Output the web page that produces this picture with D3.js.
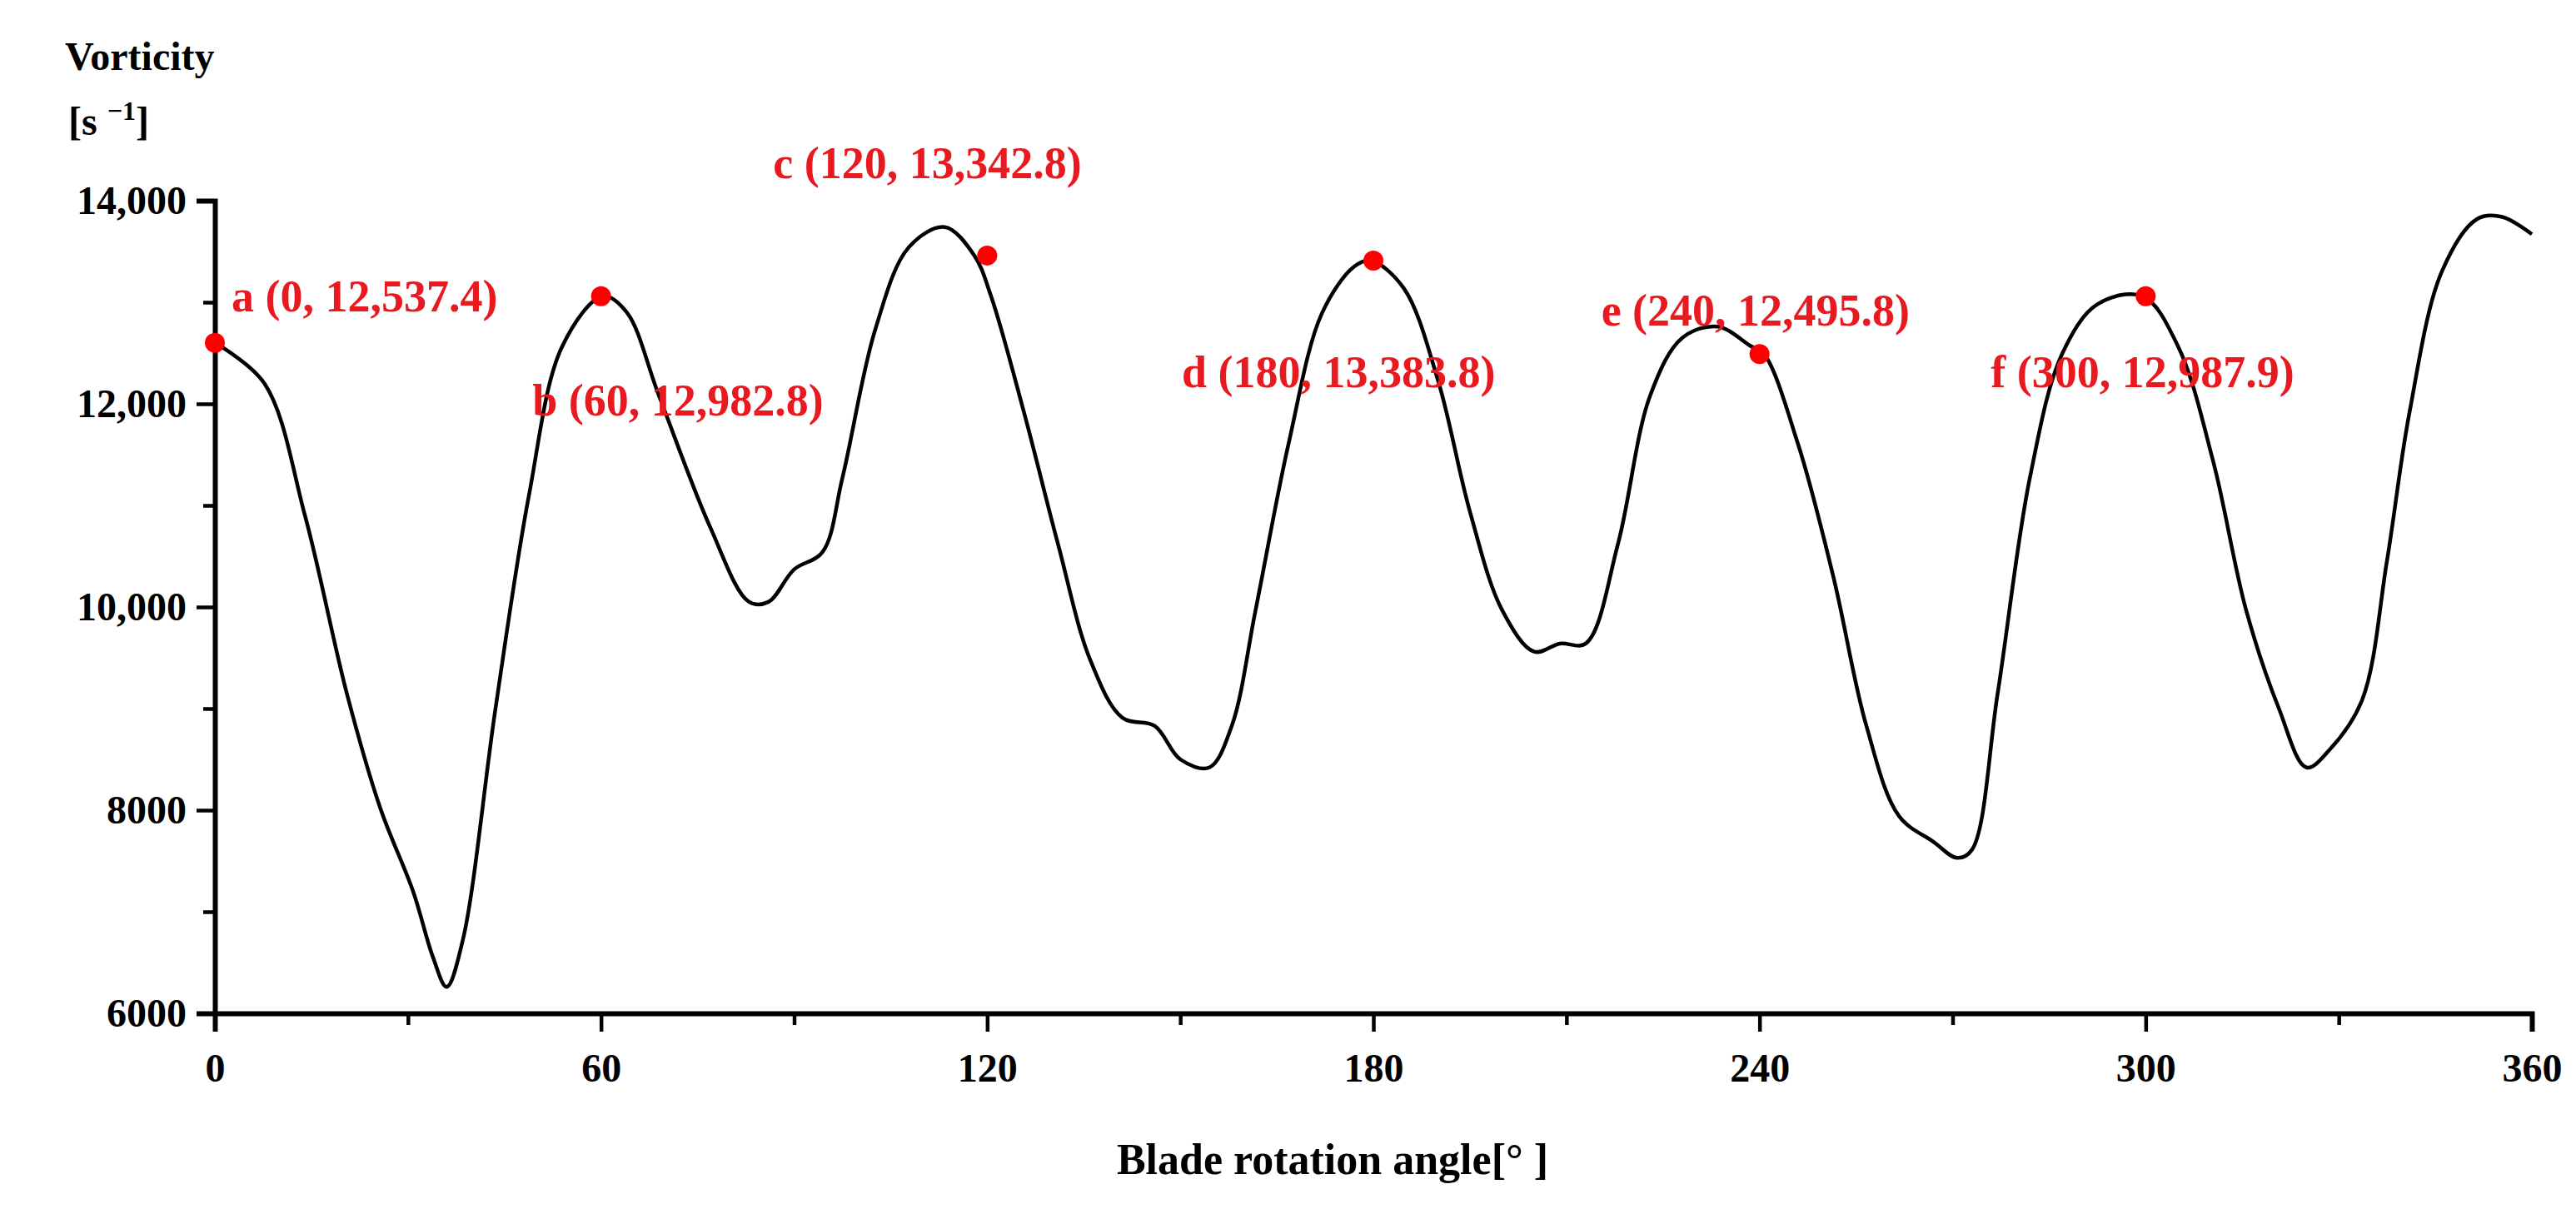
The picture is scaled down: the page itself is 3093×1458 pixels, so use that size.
<!DOCTYPE html>
<html><head><meta charset="utf-8">
<script src="https://cdn.jsdelivr.net/npm/d3@7"></script>
<style>body{margin:0;background:#fff}</style></head>
<body><svg id="c" width="3093" height="1458"></svg>
<script>
const angles = [0,7.7,14,20.5,25.7,30.8,33.9,36,38.5,43.6,48.8,54,60.3,64,69,77,83,86,90,94.4,97.5,102.6,107.8,113.4,118,120.6,125.7,131,136,141,146,150,154.5,158,161.7,166.8,172,177,179.6,184.7,190,195,200,205,209,213,218,223,228,233.5,238.6,240.7,246,251.5,256.6,261.7,267,270.7,273,277,282,287,292.5,299.5,305,310.5,315.6,320.7,325,328.5,333.6,337.5,341,346,351.5,355.4,360];
const vorticity = [12600,12200,10900,9150,8020,7200,6550,6260,6715,9000,11100,12570,13060,12900,12080,10780,10050,10050,10370,10540,11270,12730,13540,13740,13460,13060,11920,10620,9480,8910,8830,8500,8420,8830,9970,11600,12890,13350,13410,13140,12240,10940,9970,9560,9640,9640,10620,12080,12650,12760,12570,12490,11600,10290,8830,7940,7690,7530,7610,9150,11270,12490,12980,13060,12570,11430,9970,9000,8420,8590,9080,10460,11920,13300,13820,13840,13670];
const markAngles = [0,60,120,180,240,300];
const markValues = [12600,13060,13460,13410,12490,13060];
const markLabels = ["a (0, 12,537.4)","b (60, 12,982.8)","c (120, 13,342.8)","d (180, 13,383.8)","e (240, 12,495.8)","f (300, 12,987.9)"];
const xTicks = [0,60,120,180,240,300,360];
const yTicks = [6000,8000,10000,12000,14000];
const yTickLabels = ["6000","8000","10,000","12,000","14,000"];

const labelOffsets = [[20,-38,"start"],[267,143,"end"],[-257,-93,"start"],[-230,152,"start"],[-190,-34,"start"],[-186,109,"start"]];
const svg = d3.select("#c");
const x = d3.scaleLinear().domain([0,360]).range([258,3040]);
const y = d3.scaleLinear().domain([6000,14000]).range([1217,241]);
const font = "'Liberation Serif', 'Times New Roman', serif";

svg.append("g").attr("transform","translate(0,1217)")
  .call(d3.axisBottom(x).tickValues(xTicks).tickSize(22).tickPadding(26));
svg.append("g").attr("transform","translate(0,1217)")
  .call(d3.axisBottom(x).tickValues(d3.range(30,360,60)).tickSize(14).tickFormat(""))
  .call(g=>g.select(".domain").remove());
const ya = svg.append("g").attr("transform","translate(258,0)")
  .call(d3.axisLeft(y).tickValues(yTicks).tickFormat((d,i)=>yTickLabels[i]).tickSize(22).tickPadding(12));
svg.append("g").attr("transform","translate(258,0)")
  .call(d3.axisLeft(y).tickValues(d3.range(7000,14000,2000)).tickSize(14).tickFormat(""))
  .call(g=>g.select(".domain").remove());
svg.selectAll(".domain").attr("stroke","#000").attr("stroke-width",6);
svg.selectAll(".tick line").attr("stroke","#000").attr("stroke-width",4.5);
svg.selectAll(".tick text").attr("font-family",font).attr("font-weight","bold").attr("font-size",48).attr("fill","#000");
ya.selectAll(".tick text").attr("dy","0.32em");

const line = d3.line().x((d,i)=>x(angles[i])).y(d=>y(d)).curve(d3.curveCatmullRom.alpha(0.5));
svg.append("path").attr("d",line(vorticity)).attr("fill","none").attr("stroke","#000").attr("stroke-width",4.5);

svg.selectAll("circle.m").data(markAngles).enter().append("circle")
  .attr("cx",d=>x(d)).attr("cy",(d,i)=>y(markValues[i])).attr("r",12).attr("fill","#f00");
svg.selectAll("text.m").data(markLabels).enter().append("text")
  .attr("x",(d,i)=>x(markAngles[i])+labelOffsets[i][0])
  .attr("y",(d,i)=>y(markValues[i])+labelOffsets[i][1])
  .attr("text-anchor",(d,i)=>labelOffsets[i][2])
  .attr("font-family",font).attr("font-weight","bold").attr("font-size",54).attr("fill","#e8191f").text(d=>d);

svg.append("text").attr("x",78).attr("y",84).attr("font-family",font).attr("font-weight","bold").attr("font-size",48).text("Vorticity");
const t2 = svg.append("text").attr("x",82).attr("y",162).attr("font-family",font).attr("font-weight","bold").attr("font-size",48);
t2.append("tspan").text("[s ");
t2.append("tspan").attr("dy",-18).attr("font-size",32).text("−1");
t2.append("tspan").attr("dy",18).text("]");
svg.append("text").attr("x",1600).attr("y",1410).attr("text-anchor","middle").attr("font-family",font).attr("font-weight","bold").attr("font-size",52).text("Blade rotation angle[°  ]");
</script></body></html>
